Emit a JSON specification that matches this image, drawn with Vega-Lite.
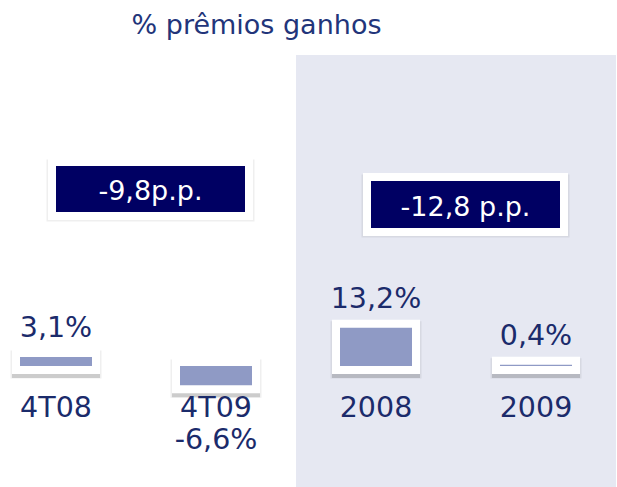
{
  "$schema": "https://vega.github.io/schema/vega-lite/v6.json",
  "width": 617,
  "height": 442,
  "autosize": {"type": "none"},
  "padding": {"top": 45, "left": 0, "right": 0, "bottom": 0},
  "background": "white",
  "title": {"text": "% prêmios ganhos", "font": "DejaVu Sans", "fontSize": 27, "fontWeight": "normal", "color": "#22357A", "anchor": "middle", "dx": -52, "offset": 5},
  "config": {"view": {"stroke": null}, "axis": {"disable": true}},
  "data": {"values": [
    {"cat": "4T08", "value": 3.1, "label": "3,1%"},
    {"cat": "4T09", "value": -6.6, "label": "-6,6%"},
    {"cat": "2008", "value": 13.2, "label": "13,2%"},
    {"cat": "2009", "value": 0.4, "label": "0,4%"}
  ]},
  "encoding": {
    "x": {"field": "cat", "type": "nominal", "sort": null, "axis": null,
      "scale": {"domain": ["4T08", "4T09", "2008", "2009"], "range": [20, 572], "paddingInner": 0.55, "paddingOuter": 0}}
  },
  "layer": [
    {
      "transform": [{"filter": {"field": "cat", "oneOf": ["2008", "2009"]}}],
      "mark": {"type": "bar", "color": "#E6E8F2", "width": {"band": 2.2222}},
      "encoding": {
        "y": {"datum": 107.24, "type": "quantitative", "axis": null, "scale": {"domain": [-41.72, 110.69], "nice": false, "zero": false}},
        "y2": {"datum": -41.72}
      }
    },
    {
      "mark": {"type": "bar", "fill": "#000000", "stroke": "#000000", "strokeWidth": 19, "opacity": 0.06, "yOffset": 3},
      "encoding": {"y": {"field": "value", "type": "quantitative", "axis": null, "scale": {"domain": [-41.72, 110.69], "nice": false, "zero": false}}}
    },
    {
      "mark": {"type": "bar", "fill": "#000000", "stroke": "#000000", "strokeWidth": 16, "opacity": 0.14, "yOffset": 4},
      "encoding": {"y": {"field": "value", "type": "quantitative", "axis": null, "scale": {"domain": [-41.72, 110.69], "nice": false, "zero": false}}}
    },
    {
      "mark": {"type": "bar", "fill": "#FFFFFF", "stroke": "#FFFFFF", "strokeWidth": 16},
      "encoding": {"y": {"field": "value", "type": "quantitative", "axis": null, "scale": {"domain": [-41.72, 110.69], "nice": false, "zero": false}}}
    },
    {
      "mark": {"type": "bar", "fill": "#8F9AC5"},
      "encoding": {"y": {"field": "value", "type": "quantitative", "axis": null, "scale": {"domain": [-41.72, 110.69], "nice": false, "zero": false}}}
    },
    {
      "transform": [{"filter": "datum.value >= 0"}],
      "mark": {"type": "text", "font": "DejaVu Sans", "fontSize": 28.5, "color": "#1B2B6B", "baseline": "alphabetic", "dy": -20},
      "encoding": {
        "y": {"field": "value", "type": "quantitative", "axis": null, "scale": {"domain": [-41.72, 110.69], "nice": false, "zero": false}},
        "text": {"field": "label"}
      }
    },
    {
      "transform": [{"filter": "datum.value < 0"}],
      "mark": {"type": "text", "font": "DejaVu Sans", "fontSize": 28.5, "color": "#1B2B6B", "baseline": "middle", "dy": 55},
      "encoding": {
        "y": {"field": "value", "type": "quantitative", "axis": null, "scale": {"domain": [-41.72, 110.69], "nice": false, "zero": false}},
        "text": {"field": "label"}
      }
    },
    {
      "mark": {"type": "text", "font": "DejaVu Sans", "fontSize": 28.5, "color": "#1B2B6B", "baseline": "middle"},
      "encoding": {
        "y": {"datum": -14.48, "type": "quantitative", "axis": null, "scale": {"domain": [-41.72, 110.69], "nice": false, "zero": false}},
        "text": {"field": "cat"}
      }
    },
    {
      "data": {"values": [{"cat": "4T08", "label": "-9,8p.p."}]},
      "layer": [
        {
          "mark": {"type": "bar", "fill": "#000000", "stroke": "#000000", "strokeWidth": 19, "opacity": 0.06, "width": 189, "xOffset": 94.5, "yOffset": 3},
          "encoding": {"y": {"datum": 68.97, "type": "quantitative", "axis": null, "scale": {"domain": [-41.72, 110.69], "nice": false, "zero": false}}, "y2": {"datum": 53.1}}
        },
        {
          "mark": {"type": "bar", "fill": "#000000", "stroke": "#000000", "strokeWidth": 16, "opacity": 0.14, "width": 189, "xOffset": 94.5, "yOffset": 4},
          "encoding": {"y": {"datum": 68.97, "type": "quantitative", "axis": null, "scale": {"domain": [-41.72, 110.69], "nice": false, "zero": false}}, "y2": {"datum": 53.1}}
        },
        {
          "mark": {"type": "bar", "fill": "#FFFFFF", "stroke": "#FFFFFF", "strokeWidth": 16, "width": 189, "xOffset": 94.5},
          "encoding": {"y": {"datum": 68.97, "type": "quantitative", "axis": null, "scale": {"domain": [-41.72, 110.69], "nice": false, "zero": false}}, "y2": {"datum": 53.1}}
        },
        {
          "mark": {"type": "bar", "fill": "#000063", "width": 189, "xOffset": 94.5},
          "encoding": {"y": {"datum": 68.97, "type": "quantitative", "axis": null, "scale": {"domain": [-41.72, 110.69], "nice": false, "zero": false}}, "y2": {"datum": 53.1}}
        },
        {
          "mark": {"type": "text", "font": "DejaVu Sans", "fontSize": 27, "color": "#FFFFFF", "baseline": "middle", "dx": 94.5},
          "encoding": {"y": {"datum": 60.0, "type": "quantitative", "axis": null, "scale": {"domain": [-41.72, 110.69], "nice": false, "zero": false}}, "text": {"field": "label"}}
        }
      ]
    },
    {
      "data": {"values": [{"cat": "2008", "label": "-12,8 p.p."}]},
      "layer": [
        {
          "mark": {"type": "bar", "fill": "#000000", "stroke": "#000000", "strokeWidth": 19, "opacity": 0.06, "width": 189, "xOffset": 89.5, "yOffset": 3},
          "encoding": {"y": {"datum": 63.79, "type": "quantitative", "axis": null, "scale": {"domain": [-41.72, 110.69], "nice": false, "zero": false}}, "y2": {"datum": 47.59}}
        },
        {
          "mark": {"type": "bar", "fill": "#000000", "stroke": "#000000", "strokeWidth": 16, "opacity": 0.14, "width": 189, "xOffset": 89.5, "yOffset": 4},
          "encoding": {"y": {"datum": 63.79, "type": "quantitative", "axis": null, "scale": {"domain": [-41.72, 110.69], "nice": false, "zero": false}}, "y2": {"datum": 47.59}}
        },
        {
          "mark": {"type": "bar", "fill": "#FFFFFF", "stroke": "#FFFFFF", "strokeWidth": 16, "width": 189, "xOffset": 89.5},
          "encoding": {"y": {"datum": 63.79, "type": "quantitative", "axis": null, "scale": {"domain": [-41.72, 110.69], "nice": false, "zero": false}}, "y2": {"datum": 47.59}}
        },
        {
          "mark": {"type": "bar", "fill": "#000063", "width": 189, "xOffset": 89.5},
          "encoding": {"y": {"datum": 63.79, "type": "quantitative", "axis": null, "scale": {"domain": [-41.72, 110.69], "nice": false, "zero": false}}, "y2": {"datum": 47.59}}
        },
        {
          "mark": {"type": "text", "font": "DejaVu Sans", "fontSize": 27, "color": "#FFFFFF", "baseline": "middle", "dx": 89.5},
          "encoding": {"y": {"datum": 54.6, "type": "quantitative", "axis": null, "scale": {"domain": [-41.72, 110.69], "nice": false, "zero": false}}, "text": {"field": "label"}}
        }
      ]
    }
  ]
}
